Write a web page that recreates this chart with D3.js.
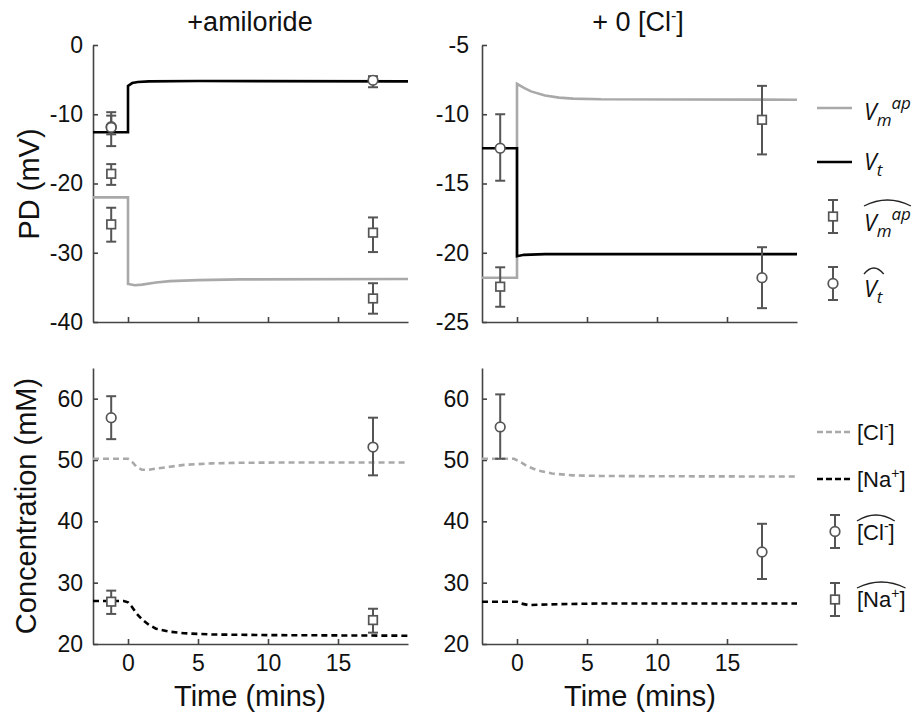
<!DOCTYPE html>
<html>
<head>
<meta charset="utf-8">
<script src="https://cdn.jsdelivr.net/npm/d3@7"></script>
<style>
  body { margin: 0; background: #fff; }
  svg text { font-family: "Liberation Sans", Arial, sans-serif; fill: #111; }
</style>
</head>
<body>
<div id="chart"></div>
<script>
// ---- data ----
const xDomain = [-2.5, 20];
const timeTicks = [0, 5, 10, 15];
const amiPdTicks = [0, -10, -20, -30, -40];
const clPdTicks = [-5, -10, -15, -20, -25];
const concTicks = [20, 30, 40, 50, 60];

// model curves, [time, value]
const amiVt = [[-2.5, -12.6], [0, -12.6], [0, -5.9], [0.3, -5.5], [0.7, -5.35], [1.5, -5.25], [5, -5.2], [20, -5.25]];
const amiVm = [[-2.5, -22], [0, -22], [0, -34.5], [0.5, -34.7], [1, -34.6], [2, -34.3], [3, -34.1], [5, -33.95], [8, -33.85], [20, -33.8]];
const clVm = [[-2.5, -21.8], [0, -21.8], [0, -7.8], [0.5, -8.1], [1, -8.35], [2, -8.65], [3, -8.8], [4, -8.87], [6, -8.92], [20, -8.95]];
const clVt = [[-2.5, -12.45], [0, -12.45], [0, -20.25], [0.5, -20.15], [2, -20.1], [20, -20.1]];
const amiCl = [[-2.5, 50.2], [0, 50.2], [0.3, 49.7], [0.6, 48.9], [1, 48.4], [1.5, 48.4], [2, 48.6], [3, 48.9], [4, 49.2], [6, 49.45], [8, 49.55], [12, 49.6], [20, 49.6]];
const amiNa = [[-2.5, 27], [-0.3, 27], [0, 26.8], [0.3, 26], [0.6, 25], [1, 24], [1.5, 23.1], [2, 22.5], [3, 22], [4, 21.75], [6, 21.55], [10, 21.45], [20, 21.35]];
const clCl = [[-2.5, 50.2], [-0.2, 50.2], [0.3, 49.6], [0.8, 48.9], [1.5, 48.3], [2.5, 47.8], [4, 47.5], [6, 47.4], [10, 47.35], [20, 47.3]];
const clNa = [[-2.5, 26.9], [0, 26.9], [0.3, 26.6], [0.8, 26.35], [1.5, 26.4], [3, 26.5], [6, 26.6], [20, 26.6]];

// measurements, [time, mean, low, high]
const amiVtHat = [[-1.2, -11.8, -14.6, -9.7], [-1.2, -11.9, -12.9, -10.2], [17.5, -5.1, -6.1, -4.5]];
const amiVmHat = [[-1.2, -18.6, -20.2, -17.2], [-1.2, -25.9, -28.4, -23.5], [17.5, -27.1, -29.9, -24.9], [17.5, -36.6, -38.8, -34.4]];
const clVtHat = [[-1.2, -12.45, -14.8, -10.0], [17.5, -21.8, -24.0, -19.6]];
const clVmHat = [[-1.2, -22.45, -23.9, -21.05], [17.5, -10.4, -12.9, -7.95]];
const amiClHat = [[-1.2, 56.9, 53.4, 60.4], [17.5, 52.1, 47.5, 56.9]];
const amiNaHat = [[-1.2, 26.9, 24.9, 28.7], [17.5, 23.9, 21.85, 25.75]];
const clClHat = [[-1.2, 55.4, 50.2, 60.7], [17.5, 35.0, 30.6, 39.6]];

// ---- layout ----
const W = 916, H = 717;
const gray = '#a9a9a9', mark = '#555';
const svg = d3.select('#chart').append('svg').attr('width', W).attr('height', H);

const cols = [{ x0: 93, pad: 10 }, { x0: 482, pad: 13 }];
const plotW = 315;
const rows = [{ y0: 45, y1: 322 }, { y0: 368, y1: 644 }];

function panel(col, row, yDomain, yTicks, showX) {
  const x = d3.scaleLinear().domain(xDomain).range([col.x0, col.x0 + plotW]);
  const y = d3.scaleLinear().domain(yDomain).range([row.y1, row.y0]);
  const g = svg.append('g');

  const xa = g.append('g').attr('transform', `translate(0,${row.y1})`)
    .call(d3.axisBottom(x).tickValues(timeTicks).tickSize(-5).tickSizeOuter(0)
      .tickPadding(11).tickFormat(showX ? d => String(d) : ''));
  const ya = g.append('g').attr('transform', `translate(${col.x0},0)`)
    .call(d3.axisLeft(y).tickValues(yTicks).tickSize(-5).tickSizeOuter(0)
      .tickPadding(col.pad).tickFormat(d => String(d)));

  [xa, ya].forEach(a => {
    a.select('.domain').attr('stroke', '#444').attr('stroke-width', 1.6);
    a.selectAll('.tick line').attr('stroke', '#444').attr('stroke-width', 1.6);
    a.selectAll('.tick text').attr('font-size', 23).attr('fill', '#111')
      .style('font-family', '"Liberation Sans", Arial, sans-serif');
  });
  return { g, x, y };
}

function curve(p, data, color, dashed) {
  p.g.append('path')
    .datum(data)
    .attr('fill', 'none')
    .attr('stroke', color)
    .attr('stroke-width', 2.6)
    .attr('stroke-dasharray', dashed ? '6,4' : null)
    .attr('d', d3.line().x(d => p.x(d[0])).y(d => p.y(d[1])));
}

function errBar(g, cx, yLo, yHi) {
  g.append('line').attr('x1', cx).attr('x2', cx).attr('y1', yLo).attr('y2', yHi)
    .attr('stroke', mark).attr('stroke-width', 2);
  [yLo, yHi].forEach(yy => g.append('line')
    .attr('x1', cx - 5).attr('x2', cx + 5).attr('y1', yy).attr('y2', yy)
    .attr('stroke', mark).attr('stroke-width', 2));
}

function marker(g, cx, cy, shape) {
  if (shape === 'circle') {
    g.append('circle').attr('cx', cx).attr('cy', cy).attr('r', 4.8)
      .attr('fill', '#fff').attr('stroke', mark).attr('stroke-width', 1.7);
  } else {
    g.append('rect').attr('x', cx - 4.3).attr('y', cy - 4.3).attr('width', 8.6).attr('height', 8.6)
      .attr('fill', '#fff').attr('stroke', mark).attr('stroke-width', 1.7);
  }
}

function points(p, data, shape) {
  data.forEach(d => {
    errBar(p.g, p.x(d[0]), p.y(d[2]), p.y(d[3]));
  });
  data.forEach(d => marker(p.g, p.x(d[0]), p.y(d[1]), shape));
}

// ---- panels ----
const tl = panel(cols[0], rows[0], [-40, 0], amiPdTicks, false);
curve(tl, amiVm, gray, false);
curve(tl, amiVt, '#000', false);
points(tl, amiVmHat, 'square');
points(tl, amiVtHat, 'circle');

const tr = panel(cols[1], rows[0], [-25, -5], clPdTicks, false);
curve(tr, clVm, gray, false);
curve(tr, clVt, '#000', false);
points(tr, clVmHat, 'square');
points(tr, clVtHat, 'circle');

const bl = panel(cols[0], rows[1], [20, 65], concTicks, true);
curve(bl, amiCl, gray, true);
curve(bl, amiNa, '#000', true);
points(bl, amiClHat, 'circle');
points(bl, amiNaHat, 'square');

const br = panel(cols[1], rows[1], [20, 65], concTicks, true);
curve(br, clCl, gray, true);
curve(br, clNa, '#000', true);
points(br, clClHat, 'circle');

// ---- titles and axis labels ----
svg.append('text').attr('x', 250).attr('y', 31).attr('text-anchor', 'middle')
  .attr('font-size', 27).text('+amiloride');
const t2 = svg.append('text').attr('x', 638).attr('y', 31).attr('text-anchor', 'middle')
  .attr('font-size', 27);
t2.append('tspan').text('+ 0 [Cl');
t2.append('tspan').attr('font-size', 16).attr('dy', -10).text('-');
t2.append('tspan').attr('dy', 10).text(']');

svg.append('text').attr('transform', 'translate(29,184) rotate(-90)')
  .attr('text-anchor', 'middle').attr('dominant-baseline', 'central')
  .attr('font-size', 29).text('PD (mV)');
svg.append('text').attr('transform', 'translate(26,506) rotate(-90)')
  .attr('text-anchor', 'middle').attr('dominant-baseline', 'central')
  .attr('font-size', 29).text('Concentration (mM)');
[250, 640].forEach(cx => svg.append('text').attr('x', cx).attr('y', 696)
  .attr('text-anchor', 'middle').attr('dominant-baseline', 'central')
  .attr('font-size', 29).text('Time (mins)'));

// ---- legends ----
const lg = svg.append('g');
function hat(textSel, lift) {
  const b = textSel.node().getBBox();
  lg.append('path')
    .attr('d', `M${b.x},${b.y + lift} Q${b.x + b.width / 2},${b.y + lift - 12} ${b.x + b.width},${b.y + lift}`)
    .attr('fill', 'none').attr('stroke', '#222').attr('stroke-width', 1.3);
}
function italicV(xx, yy, sub, sup) {
  const t = lg.append('text').attr('x', xx).attr('y', yy).attr('font-size', 23)
    .style('font-family', '"Open Sans", "DejaVu Sans", sans-serif').attr('font-style', 'italic');
  t.append('tspan').text('V');
  t.append('tspan').attr('font-size', 17).attr('dy', 6).text(sub);
  if (sup) t.append('tspan').attr('font-size', 17).attr('dy', -17).text(sup);
  return t;
}
// PD legend
lg.append('line').attr('x1', 817).attr('x2', 852).attr('y1', 108).attr('y2', 108)
  .attr('stroke', gray).attr('stroke-width', 2.6);
italicV(864, 120, 'm', 'ap');
lg.append('line').attr('x1', 817).attr('x2', 852).attr('y1', 162).attr('y2', 162)
  .attr('stroke', '#000').attr('stroke-width', 2.6);
italicV(864, 170, 't', null);
errBar(lg, 833, 233, 200);
marker(lg, 833, 216.5, 'square');
hat(italicV(864, 231, 'm', 'ap'), 4);
errBar(lg, 833, 300, 267);
marker(lg, 833, 283.5, 'circle');
hat(italicV(864, 297, 't', null), 2);

// concentration legend
function ionText(xx, yy, ion, sign) {
  const t = lg.append('text').attr('x', xx).attr('y', yy).attr('font-size', 22);
  t.append('tspan').text('[' + ion);
  t.append('tspan').attr('font-size', 14).attr('dy', -9).text(sign);
  t.append('tspan').attr('dy', 9).text(']');
  return t;
}
lg.append('line').attr('x1', 817).attr('x2', 852).attr('y1', 432).attr('y2', 432)
  .attr('stroke', gray).attr('stroke-width', 2.6).attr('stroke-dasharray', '6,3');
ionText(857, 440, 'Cl', '-');
lg.append('line').attr('x1', 817).attr('x2', 852).attr('y1', 479).attr('y2', 479)
  .attr('stroke', '#000').attr('stroke-width', 2.6).attr('stroke-dasharray', '6,3');
ionText(857, 487, 'Na', '+');
errBar(lg, 835, 548, 515);
marker(lg, 835, 531.5, 'circle');
hat(ionText(857, 540, 'Cl', '-'), 3);
errBar(lg, 835, 616, 583);
marker(lg, 835, 599.5, 'square');
hat(ionText(857, 607, 'Na', '+'), 3);
</script>
</body>
</html>
